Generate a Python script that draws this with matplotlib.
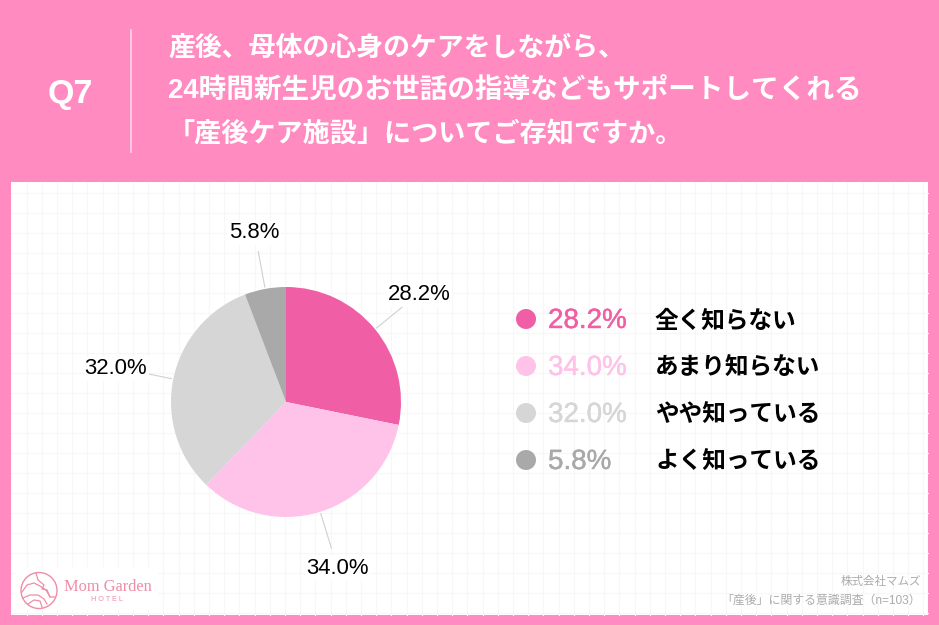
import numpy as np
import matplotlib
matplotlib.use("Agg")
import matplotlib.pyplot as plt
import matplotlib.patheffects as pe
from matplotlib.patches import Rectangle, Circle

plt.rcParams['font.family'] = ['Liberation Sans', 'Noto Sans CJK JP', 'DejaVu Sans']

categories = ['全く知らない', 'あまり知らない', 'やや知っている', 'よく知っている']
values = [28.2, 34.0, 32.0, 5.8]
colors = ['#F05FA6', '#FFC2E8', '#D6D6D6', '#A9A9A9']
value_labels = ['28.2%', '34.0%', '32.0%', '5.8%']
title_lines = ['産後、母体の心身のケアをしながら、',
               '24時間新生児のお世話の指導などもサポートしてくれる',
               '「産後ケア施設」についてご存知ですか。']

W, H = 939, 625
PINK = '#FF8BC0'

def Y(y):
    return H - y

fig = plt.figure(figsize=(W / 100, H / 100), dpi=100, facecolor=PINK)
ax = fig.add_axes([0, 0, 1, 1])
ax.set_xlim(0, W)
ax.set_ylim(0, H)
ax.axis('off')

# panel + faint grid
ax.add_patch(Rectangle((11, Y(615)), 917, 433, fc='white', ec='none', zorder=1))
for x in np.arange(26.5, 928, 15.2):
    ax.plot([x, x], [Y(182), Y(615)], color='#F7F7F7', lw=0.8, zorder=1.1)
for y in np.arange(192.5, 615, 20):
    ax.plot([11, 928], [Y(y), Y(y)], color='#F7F7F7', lw=0.8, zorder=1.1)
ax.add_patch(Rectangle((15, Y(610)), 143, 43, fc='white', ec='none', zorder=1.2))

# header
ax.text(70, Y(91), 'Q7', color='white', fontsize=24.5, fontweight='bold', ha='center', va='center_baseline')
ax.plot([131, 131], [Y(30), Y(152)], color='#FFD3E6', lw=1.2)
for line, y, fs in zip(title_lines, [49, 91, 135], [19.4, 19.9, 19.5]):
    ax.text(168, Y(y), line, color='white', fontsize=fs, fontweight='bold', va='center')

# pie
cx, cy, r = 286, Y(402), 115
wedges, _ = ax.pie(values, colors=colors, startangle=90, counterclock=False,
                   center=(cx, cy), radius=r, frame=False)
for w in wedges:
    w.set_zorder(3)
ax.set_xlim(0, W)
ax.set_ylim(0, H)
ax.set_aspect('auto')

label_pos = [(419, 295), (337, 568), (116, 369), (254, 233)]
for w, lab, (lx, ly) in zip(wedges, value_labels, label_pos):
    a = np.deg2rad((w.theta1 + w.theta2) / 2)
    ax.plot([cx + (r + 2) * np.cos(a), cx + (r + 38) * np.cos(a)],
            [cy + (r + 2) * np.sin(a), cy + (r + 38) * np.sin(a)],
            color='#D0D0D0', lw=0.8, zorder=2)
    ax.text(lx, Y(ly), lab, color='black', fontsize=15.9, ha='center', va='center',
            bbox=dict(fc='white', ec='none', pad=1.5), zorder=4)

# legend
for cat, lab, col, y in zip(categories, value_labels, colors, [319, 366, 413, 460]):
    ax.add_patch(Circle((526, Y(y)), 10, fc=col, ec='none', zorder=3))
    ax.text(548, Y(y + 2), lab, color=col, fontsize=20, va='center', zorder=3,
            path_effects=[pe.withStroke(linewidth=0.3, foreground=col)])
    ax.text(655, Y(y + 2), cat, color='black', fontsize=17, fontweight='bold', va='center', zorder=3)

# footer
ax.text(921, Y(582), '株式会社マムズ', color='#ABABAB', fontsize=8.3, ha='right', va='center', zorder=3)
ax.text(921, Y(600.5), '「産後」に関する意識調査（n=103）', color='#ABABAB', fontsize=8.6, ha='right', va='center', zorder=3)

# logo
LOGO = '#F08CA8'
ax.add_patch(Circle((39, Y(590.5)), 18, fc='none', ec=LOGO, lw=1, zorder=3))
ax.plot([36, 38, 44, 42, 47, 50, 55], [Y(573), Y(580), Y(585), Y(589), Y(590), Y(597), Y(597)], color=LOGO, lw=0.9, zorder=3)
ax.plot([22, 27, 34, 40, 46, 50], [Y(592), Y(585), Y(583), Y(586), Y(590), Y(597)], color=LOGO, lw=0.9, zorder=3)
ax.plot([23, 30, 38, 44, 47], [Y(598), Y(595), Y(595), Y(599), Y(604)], color=LOGO, lw=0.9, zorder=3)
ax.plot([28, 34, 40, 42], [Y(604), Y(600), Y(601), Y(607)], color=LOGO, lw=0.9, zorder=3)
ax.text(64, Y(587), 'Mom Garden', color=LOGO, fontsize=11.8, family='Liberation Serif', va='center', zorder=3)
ax.text(107, Y(599.5), 'H O T E L', color=LOGO, fontsize=5.2, ha='center', va='center', zorder=3)

fig.savefig('out.png', dpi=100, facecolor=PINK)
